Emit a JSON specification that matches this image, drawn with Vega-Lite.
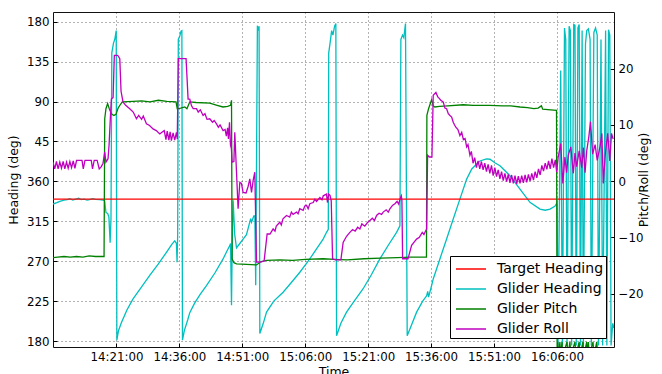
{
"$schema": "https://vega.github.io/schema/vega-lite/v6.json",
"width": 561, "height": 335,
"autosize": {"type": "none"},
"padding": {"left": 53, "top": 12, "right": 48, "bottom": 27},
"background": "white",
"config": {
  "font": "DejaVu Sans",
  "view": {"stroke": "#111", "strokeWidth": 1},
  "axis": {"labelFont": "DejaVu Sans", "labelFontSize": 11.8, "labelColor": "#000", "titleFont": "DejaVu Sans", "titleFontSize": 12.5, "titleFontWeight": "normal", "titleColor": "#000", "domain": false, "tickColor": "#000", "tickSize": -4, "labelPadding": 8, "gridColor": "#000", "gridDash": [1, 3], "gridOpacity": 0.6, "gridWidth": 1},
  "legend": {"symbolType": "M-1.5,0H1.5", "symbolSize": 400, "symbolStrokeWidth": 1.5, "symbolOffset": 8, "labelFont": "DejaVu Sans", "labelFontSize": 14, "labelColor": "#000", "strokeColor": "#000", "fillColor": "white", "padding": 2, "labelOffset": 15, "rowPadding": 2}
},
"datasets": {
 "td": [{"m":5.88,"v":340},{"m":139.6,"v":340}],
 "hd": [
 {"m":5.88,"v":334.5},{"m":6.8,"v":336},{"m":7.5,"v":337.5},{"m":8.5,"v":339},{"m":9.3,"v":339.5},{"m":9.9,"v":340.5},{"m":10.6,"v":339},{"m":11.3,"v":340},{"m":12.0,"v":341},{"m":12.6,"v":339.5},{"m":13.3,"v":340},{"m":14.0,"v":339},{"m":14.6,"v":339.5},{"m":15.3,"v":340.5},{"m":16.0,"v":339.8},{"m":17.0,"v":339.5},{"m":17.8,"v":339},{"m":18.2,"v":338},{"m":18.5,"v":325},{"m":18.9,"v":324},{"m":19.2,"v":320},{"m":19.5,"v":291},{"m":19.7,"v":318},{"m":19.9,"v":505},{"m":20.3,"v":516},{"m":20.6,"v":520},{"m":20.95,"v":530},{"m":21.1,"v":181},{"m":21.5,"v":192},{"m":22.2,"v":201},{"m":23.5,"v":215},{"m":24.96,"v":227.6},{"m":27.0,"v":241},{"m":28.94,"v":254},{"m":31.0,"v":267},{"m":32.92,"v":280},{"m":34.2,"v":289},{"m":34.9,"v":293},{"m":35.3,"v":290},{"m":35.45,"v":269},{"m":35.6,"v":300},{"m":35.75,"v":520},{"m":36.1,"v":524},{"m":36.4,"v":529.5},{"m":36.6,"v":530},{"m":36.74,"v":181},{"m":37.2,"v":192},{"m":38.0,"v":204},{"m":38.48,"v":212},{"m":39.67,"v":223},{"m":41.0,"v":233},{"m":42.46,"v":242.6},{"m":44.5,"v":257},{"m":46.42,"v":272.6},{"m":47.5,"v":283},{"m":48.02,"v":287.6},{"m":48.2,"v":290},{"m":48.43,"v":220.5},{"m":48.6,"v":290},{"m":48.81,"v":338.6},{"m":49.2,"v":300},{"m":49.62,"v":285},{"m":50.41,"v":290},{"m":51.19,"v":295},{"m":52.0,"v":300},{"m":53.0,"v":318},{"m":53.2,"v":314},{"m":53.75,"v":321},{"m":54.0,"v":321},{"m":54.2,"v":243},{"m":54.6,"v":535.5},{"m":54.9,"v":530},{"m":55.0,"v":535},{"m":55.18,"v":188.6},{"m":56.0,"v":200},{"m":56.78,"v":212.6},{"m":58.5,"v":225},{"m":60.73,"v":235},{"m":62.7,"v":246},{"m":64.72,"v":257.6},{"m":66.7,"v":270},{"m":68.7,"v":283.8},{"m":70.27,"v":295},{"m":71.08,"v":302.6},{"m":71.5,"v":306},{"m":71.6,"v":505},{"m":71.9,"v":515},{"m":72.3,"v":530},{"m":72.6,"v":525},{"m":73.0,"v":535},{"m":73.3,"v":538},{"m":73.47,"v":186},{"m":74.5,"v":200},{"m":75.85,"v":212.6},{"m":77.8,"v":226},{"m":79.81,"v":239},{"m":81.8,"v":255},{"m":83.8,"v":272.6},{"m":85.8,"v":288},{"m":87.78,"v":302.6},{"m":88.57,"v":310},{"m":88.8,"v":520},{"m":89.2,"v":525},{"m":89.5,"v":522},{"m":89.9,"v":538},{"m":90.31,"v":186},{"m":91.5,"v":200},{"m":92.55,"v":212.6},{"m":94.0,"v":225},{"m":94.94,"v":231},{"m":95.2,"v":236},{"m":95.4,"v":229.5},{"m":96.13,"v":242.6},{"m":96.51,"v":250},{"m":98.1,"v":272.6},{"m":99.7,"v":295},{"m":101.28,"v":317.6},{"m":102.87,"v":340},{"m":104.48,"v":362.6},{"m":105.7,"v":374},{"m":106.45,"v":377.6},{"m":107.65,"v":383},{"m":109.2,"v":385.5},{"m":110.03,"v":385},{"m":111.2,"v":381},{"m":112.42,"v":377.6},{"m":114.8,"v":366.4},{"m":117.19,"v":351.3},{"m":119.57,"v":336.4},{"m":121.96,"v":328.8},{"m":123.2,"v":327.5},{"m":124.34,"v":328.8},{"m":125.5,"v":332},{"m":126.05,"v":336},
 {"m":126.25,"v":175},{"m":126.9,"v":485},{"m":127.3,"v":175},{"m":127.8,"v":533},{"m":128.1,"v":520},{"m":128.4,"v":175},{"m":128.9,"v":535},{"m":129.2,"v":530},{"m":129.5,"v":175},{"m":130.0,"v":537},{"m":130.3,"v":536},{"m":130.6,"v":175},{"m":131.0,"v":533},{"m":131.3,"v":537},{"m":131.6,"v":175},{"m":132.0,"v":530},{"m":132.3,"v":175},{"m":132.8,"v":515},{"m":133.1,"v":530},{"m":133.5,"v":532},{"m":133.9,"v":520},{"m":134.2,"v":175},{"m":134.8,"v":528},{"m":135.2,"v":533},{"m":135.6,"v":525},{"m":135.9,"v":175},{"m":136.5,"v":520},{"m":136.9,"v":175},{"m":137.6,"v":530},{"m":137.9,"v":175},{"m":138.3,"v":531},{"m":138.6,"v":525},{"m":138.9,"v":175},{"m":139.3,"v":200},{"m":139.6,"v":194.6}
 ],
 "pd": [
 {"m":5.88,"v":-13.6},{"m":7,"v":-13.5},{"m":8.5,"v":-13.4},{"m":10,"v":-13.5},{"m":11.5,"v":-13.4},{"m":13,"v":-13.5},{"m":14.5,"v":-13.3},{"m":16,"v":-13.4},{"m":17.5,"v":-13.4},{"m":18.05,"v":-13.4},{"m":18.21,"v":11.1},{"m":18.5,"v":12.9},{"m":18.9,"v":13.8},{"m":19.3,"v":12.9},{"m":19.8,"v":12.0},{"m":20.4,"v":11.7},{"m":20.9,"v":11.9},{"m":21.4,"v":13.0},{"m":21.9,"v":13.6},{"m":22.4,"v":14.1},{"m":25,"v":14.2},{"m":27,"v":14.3},{"m":29,"v":14.1},{"m":31,"v":14.4},{"m":33,"v":14.2},{"m":35.2,"v":14.1},{"m":35.5,"v":12.9},{"m":36.3,"v":13.0},{"m":37.3,"v":13.2},{"m":37.8,"v":12.9},{"m":38.48,"v":14.1},{"m":40,"v":14.0},{"m":43.25,"v":13.9},{"m":45,"v":13.5},{"m":46.4,"v":13.2},{"m":47.5,"v":13.3},{"m":48.2,"v":13.5},{"m":48.43,"v":14.4},{"m":48.57,"v":-13.8},{"m":49.0,"v":-14.5},{"m":49.62,"v":-14.7},{"m":52,"v":-14.8},{"m":54.4,"v":-14.9},{"m":55.5,"v":-14.3},{"m":56.8,"v":-14.1},{"m":60,"v":-14.0},{"m":63,"v":-14.1},{"m":66,"v":-13.9},{"m":70.27,"v":-13.8},{"m":73,"v":-13.9},{"m":76,"v":-14.0},{"m":80,"v":-13.8},{"m":84,"v":-13.7},{"m":88,"v":-13.6},{"m":91,"v":-13.5},{"m":94.9,"v":-13.5},{"m":95.0,"v":11.7},{"m":95.4,"v":12.9},{"m":95.9,"v":14.0},{"m":96.13,"v":14.5},{"m":96.5,"v":13.4},{"m":96.9,"v":13.2},{"m":98,"v":13.3},{"m":100,"v":13.4},{"m":103.66,"v":13.6},{"m":106,"v":13.5},{"m":110,"v":13.5},{"m":113,"v":13.4},{"m":115,"v":13.4},{"m":117.2,"v":13.2},{"m":119,"v":13.1},{"m":120.5,"v":12.9},{"m":121.5,"v":13.0},{"m":122.3,"v":13.4},{"m":122.6,"v":12.8},{"m":124.5,"v":12.7},{"m":125.9,"v":12.6},{"m":126.05,"v":-31},
 {"m":126.2,"v":-28.6},{"m":126.4,"v":-31},{"m":126.7,"v":-28.6},{"m":126.9,"v":-31},{"m":127.2,"v":-28.6},{"m":127.4,"v":-31},{"m":128.4,"v":-28.6},{"m":128.6,"v":-31},{"m":129.1,"v":-28.6},{"m":129.3,"v":-31},{"m":130.3,"v":-28.6},{"m":130.5,"v":-31},{"m":131.3,"v":-28.6},{"m":131.5,"v":-31},{"m":132.2,"v":-28.6},{"m":132.4,"v":-31},{"m":133.1,"v":-28.6},{"m":133.3,"v":-31},{"m":133.5,"v":-28.6},{"m":133.7,"v":-31},{"m":134.6,"v":-28.6},{"m":134.8,"v":-31},{"m":135.5,"v":-28.6},{"m":135.7,"v":-31},{"m":139.6,"v":-31}
 ],
 "rd": [
 {"m":5.88,"v":3.4},{"m":6.3,"v":2.2},{"m":6.7,"v":3.5},{"m":7.1,"v":2.2},{"m":7.5,"v":3.4},{"m":7.9,"v":2.3},{"m":8.3,"v":3.5},{"m":8.7,"v":2.2},{"m":9.1,"v":3.4},{"m":9.5,"v":2.3},{"m":9.9,"v":3.5},{"m":10.3,"v":2.4},{"m":10.7,"v":3.6},{"m":11.1,"v":2.3},{"m":11.5,"v":3.7},{"m":12.8,"v":3.7},{"m":13.1,"v":2.2},{"m":13.5,"v":3.7},{"m":15.0,"v":3.7},{"m":15.3,"v":2.2},{"m":15.7,"v":3.7},{"m":16.4,"v":3.7},{"m":16.9,"v":2.2},{"m":17.4,"v":2.6},{"m":17.8,"v":3.2},{"m":18.21,"v":5.2},{"m":18.5,"v":3.4},{"m":19.0,"v":4.0},{"m":19.24,"v":6.4},{"m":19.6,"v":12},{"m":19.8,"v":14.6},{"m":20.2,"v":14.9},{"m":20.5,"v":22.4},{"m":21.3,"v":22.4},{"m":21.8,"v":21.8},{"m":22.1,"v":16},{"m":22.57,"v":14.1},{"m":23.2,"v":13.5},{"m":24.17,"v":12.9},{"m":25.0,"v":12.3},{"m":25.77,"v":11.1},{"m":26.3,"v":11.7},{"m":27.0,"v":11.0},{"m":27.4,"v":11.6},{"m":28.15,"v":10.2},{"m":28.9,"v":9.9},{"m":29.73,"v":9.3},{"m":30.5,"v":9.0},{"m":31.33,"v":8.4},{"m":32.0,"v":8.8},{"m":32.4,"v":9.0},{"m":32.8,"v":7.4},{"m":33.1,"v":8.9},{"m":33.5,"v":7.3},{"m":33.8,"v":8.8},{"m":34.1,"v":7.2},{"m":34.5,"v":8.6},{"m":34.9,"v":7.3},{"m":35.3,"v":8.7},{"m":35.5,"v":7.5},{"m":35.75,"v":21.8},{"m":37.6,"v":21.8},{"m":38.08,"v":14.6},{"m":38.48,"v":14.6},{"m":38.9,"v":13.4},{"m":39.3,"v":12.9},{"m":40.08,"v":12.9},{"m":40.5,"v":12.3},{"m":41.0,"v":12.7},{"m":41.65,"v":11.7},{"m":42.1,"v":12.0},{"m":42.6,"v":11.0},{"m":43.25,"v":11.1},{"m":43.9,"v":10.5},{"m":44.3,"v":10.8},{"m":44.85,"v":10.2},{"m":45.3,"v":9.6},{"m":45.7,"v":10.0},{"m":46.42,"v":9.0},{"m":46.9,"v":9.2},{"m":47.2,"v":8.0},{"m":47.5,"v":9.5},{"m":47.7,"v":7.5},{"m":47.95,"v":10.5},{"m":48.19,"v":6.4},{"m":48.4,"v":5.8},{"m":48.57,"v":3.4},{"m":49.0,"v":3.5},{"m":49.21,"v":8.7},{"m":49.62,"v":1.6},{"m":50.0,"v":-4.9},{"m":50.41,"v":-0.2},{"m":50.8,"v":-0.4},{"m":51.19,"v":-2.0},{"m":51.9,"v":-2.1},{"m":52.4,"v":-0.9},{"m":52.79,"v":0.4},{"m":53.2,"v":-2.0},{"m":53.6,"v":0.2},{"m":53.98,"v":1.6},{"m":54.39,"v":-14.4},{"m":55.3,"v":-14.4},{"m":56.2,"v":-14.2},{"m":56.92,"v":-9.4},{"m":57.6,"v":-9.4},{"m":58.35,"v":-8.5},{"m":58.8,"v":-8.9},{"m":59.1,"v":-8.0},{"m":59.95,"v":-7.3},{"m":60.3,"v":-7.8},{"m":60.7,"v":-6.7},{"m":61.54,"v":-6.1},{"m":62.3,"v":-6.4},{"m":62.7,"v":-5.5},{"m":63.1,"v":-5.9},{"m":63.93,"v":-5.5},{"m":64.3,"v":-5.8},{"m":64.7,"v":-4.9},{"m":65.5,"v":-5.2},{"m":65.9,"v":-4.4},{"m":66.31,"v":-4.3},{"m":66.7,"v":-4.9},{"m":67.1,"v":-4.0},{"m":67.9,"v":-3.8},{"m":68.3,"v":-3.2},{"m":68.7,"v":-3.6},{"m":69.5,"v":-2.9},{"m":70.0,"v":-3.3},{"m":70.3,"v":-2.6},{"m":71.08,"v":-2.3},{"m":71.3,"v":-3.8},{"m":71.6,"v":-2.3},{"m":71.9,"v":-2.5},{"m":72.2,"v":-3.5},{"m":72.52,"v":-13.8},{"m":73.2,"v":-14.0},{"m":74.5,"v":-14.0},{"m":75.04,"v":-10.9},{"m":75.85,"v":-9.8},{"m":76.64,"v":-9.1},{"m":77.3,"v":-8.6},{"m":77.9,"v":-8.9},{"m":78.5,"v":-8.2},{"m":79.03,"v":-8.5},{"m":79.5,"v":-7.6},{"m":80.2,"v":-8.0},{"m":80.8,"v":-7.4},{"m":81.41,"v":-7.0},{"m":82.0,"v":-6.6},{"m":82.5,"v":-7.0},{"m":83.01,"v":-6.1},{"m":83.6,"v":-5.7},{"m":84.2,"v":-5.9},{"m":84.58,"v":-5.5},{"m":85.3,"v":-5.1},{"m":85.8,"v":-5.5},{"m":86.18,"v":-4.9},{"m":86.8,"v":-4.3},{"m":87.37,"v":-4.0},{"m":87.9,"v":-3.6},{"m":88.3,"v":-4.1},{"m":88.57,"v":-3.2},{"m":88.9,"v":-2.6},{"m":89.05,"v":-3.5},{"m":89.21,"v":-13.8},{"m":90.5,"v":-13.8},{"m":91.36,"v":-11.4},{"m":92.0,"v":-10.8},{"m":92.55,"v":-10.3},{"m":93.2,"v":-10.0},{"m":93.9,"v":-9.1},{"m":94.3,"v":-9.5},{"m":94.6,"v":-9.0},{"m":94.94,"v":-8.5},{"m":95.17,"v":4.6},{"m":95.6,"v":4.3},{"m":96.2,"v":4.3},{"m":96.51,"v":15.3},{"m":97.15,"v":15.8},{"m":97.6,"v":15.0},{"m":98.0,"v":14.7},{"m":98.3,"v":14.4},{"m":98.89,"v":14.1},{"m":99.3,"v":13.0},{"m":99.7,"v":12.9},{"m":100.1,"v":12.0},{"m":100.49,"v":11.7},{"m":100.9,"v":11.4},{"m":101.28,"v":10.5},{"m":101.6,"v":10.0},{"m":101.9,"v":9.6},{"m":102.4,"v":9.2},{"m":102.87,"v":8.1},{"m":103.3,"v":8.7},{"m":103.7,"v":7.4},{"m":104.1,"v":7.6},{"m":104.48,"v":6.1},{"m":104.8,"v":6.5},{"m":105.26,"v":4.6},
 {"m":105.6,"v":5.3},{"m":106.0,"v":3.2},{"m":106.4,"v":4.2},{"m":106.8,"v":2.4},{"m":107.2,"v":3.6},{"m":107.6,"v":2.2},{"m":108.0,"v":3.5},{"m":108.4,"v":2.0},{"m":108.8,"v":3.2},{"m":109.2,"v":1.7},{"m":109.6,"v":3.0},{"m":110.0,"v":1.4},{"m":110.4,"v":2.8},{"m":110.8,"v":1.0},{"m":111.2,"v":2.4},{"m":111.6,"v":0.8},{"m":112.0,"v":2.0},{"m":112.4,"v":0.4},{"m":112.8,"v":1.7},{"m":113.2,"v":0.1},{"m":113.6,"v":1.4},{"m":114.0,"v":-0.1},{"m":114.4,"v":1.2},{"m":114.8,"v":-0.3},{"m":115.2,"v":1.1},{"m":115.6,"v":-0.4},{"m":116.0,"v":1.0},{"m":116.4,"v":-0.5},{"m":116.8,"v":0.9},{"m":117.2,"v":-0.4},{"m":117.6,"v":1.0},{"m":118.0,"v":-0.3},{"m":118.4,"v":1.1},{"m":118.8,"v":-0.2},{"m":119.2,"v":1.2},{"m":119.6,"v":0.0},{"m":120.0,"v":1.4},{"m":120.4,"v":0.2},{"m":120.8,"v":1.7},{"m":121.2,"v":0.6},{"m":121.6,"v":2.2},{"m":122.0,"v":1.1},{"m":122.4,"v":2.8},{"m":122.8,"v":1.8},{"m":123.2,"v":3.2},{"m":123.6,"v":2.1},{"m":124.0,"v":3.6},{"m":124.4,"v":2.2},{"m":124.8,"v":4.0},{"m":125.2,"v":2.4},{"m":125.6,"v":3.8},{"m":125.94,"v":1.6},
 {"m":126.3,"v":4.3},{"m":126.9,"v":6.7},{"m":127.4,"v":-0.4},{"m":127.9,"v":4.3},{"m":128.3,"v":1.5},{"m":128.7,"v":4.6},{"m":129.3,"v":6.1},{"m":129.9,"v":1.4},{"m":130.3,"v":5.0},{"m":130.7,"v":2.6},{"m":131.3,"v":5.4},{"m":131.9,"v":2.4},{"m":132.3,"v":6.0},{"m":132.7,"v":1.5},{"m":133.1,"v":5.4},{"m":133.6,"v":7.9},{"m":134.0,"v":10.6},{"m":134.5,"v":4.8},{"m":135.1,"v":6.5},{"m":135.6,"v":3.7},{"m":136.3,"v":6.3},{"m":136.7,"v":8.5},{"m":137.05,"v":-0.4},{"m":137.5,"v":4.6},{"m":138.1,"v":8.5},{"m":138.6,"v":3.6},{"m":139.0,"v":8.5},{"m":139.4,"v":7.5}
 ]
},
"encoding": {
  "x": {"field": "m", "type": "quantitative", "title": "Time",
        "scale": {"domain": [5.88, 139.6], "nice": false, "zero": false},
        "axis": {"values": [21, 36, 51, 66, 81, 96, 111, 126], "grid": true, "titlePadding": 3,
                 "labelExpr": "(14 + floor(datum.value/60)) + ':' + (datum.value % 60 < 10 ? '0' : '') + (datum.value % 60) + ':00'"}},
  "color": {"scale": {"domain": ["Target Heading", "Glider Heading", "Glider Pitch", "Glider Roll"], "range": ["#ff0000", "#00bfbf", "#008000", "#bf00bf"]},
            "legend": {"title": null, "orient": "none", "legendX": 397, "legendY": 244}}
},
"layer": [
  {
    "encoding": {
      "y": {"field": "v", "type": "quantitative", "title": "Heading (deg)",
            "scale": {"domain": [173.3, 551], "nice": false, "zero": false},
            "axis": {"orient": "left", "values": [180, 225, 270, 315, 360, 405, 450, 495, 540], "grid": true, "titlePadding": 6,
                     "labelExpr": "'' + (datum.value > 360 ? datum.value - 360 : datum.value)"}}
    },
    "layer": [
      {"data": {"name": "hd"}, "mark": {"type": "line", "strokeWidth": 1.3, "clip": true},
       "encoding": {"color": {"datum": "Glider Heading"}}},
      {"data": {"name": "td"}, "mark": {"type": "line", "strokeWidth": 1.3, "clip": true},
       "encoding": {"color": {"datum": "Target Heading"}}}
    ]
  },
  {
    "encoding": {
      "y": {"field": "v", "type": "quantitative", "title": "Pitch/Roll (deg)",
            "scale": {"domain": [-29.5, 30.1], "nice": false, "zero": false},
            "axis": {"orient": "right", "values": [-20, -10, 0, 10, 20], "grid": false, "titleAngle": 270, "titlePadding": 8,
                     "labelExpr": "replace(datum.label, '-', '\u2212')"}}
    },
    "layer": [
      {"data": {"name": "pd"}, "mark": {"type": "line", "strokeWidth": 1.3, "clip": true},
       "encoding": {"color": {"datum": "Glider Pitch"}}},
      {"data": {"name": "rd"}, "mark": {"type": "line", "strokeWidth": 1.3, "clip": true},
       "encoding": {"color": {"datum": "Glider Roll"}}}
    ]
  }
],
"resolve": {"scale": {"y": "independent"}}
}
